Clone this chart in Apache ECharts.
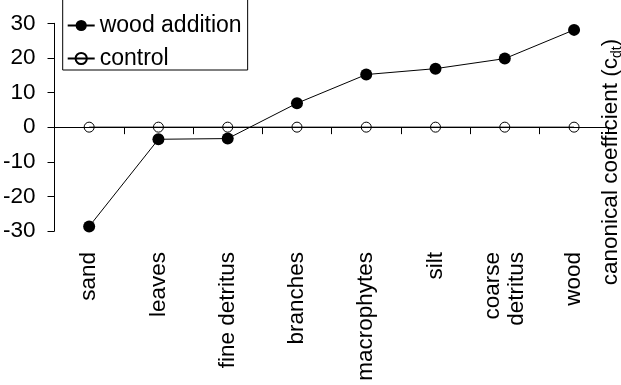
<!DOCTYPE html>
<html>
<head>
<meta charset="utf-8">
<script src="https://cdn.jsdelivr.net/npm/echarts@6/dist/echarts.min.js"></script>
<style>
  html, body { margin: 0; padding: 0; background: #fff; }
  #chart { width: 621px; height: 385px; }
</style>
</head>
<body>
<div id="chart"></div>
<script>
const categories = ['sand', 'leaves', 'fine detritus', 'branches', 'macrophytes', 'silt', 'coarse\ndetritus', 'wood'];
const woodAddition = [-28.7, -3.5, -3.3, 6.9, 15.2, 16.9, 19.8, 28.1];
const control = [0, 0, 0, 0, 0, 0, 0, 0];
const yMin = -30, yMax = 30, yStep = 10;
const seriesNames = ['wood addition', 'control'];
const yTitleMain = 'canonical coefficient (c';
const yTitleSub = 'dt';

const FONT = '"Liberation Sans", Arial, sans-serif';
const chart = echarts.init(document.getElementById('chart'), null, { renderer: 'canvas' });

chart.setOption({
  animation: false,
  backgroundColor: '#fff',
  grid: { left: 52.5, right: 12.3, top: 23.3, bottom: 154 },
  legend: {
    data: seriesNames,
    orient: 'vertical',
    left: 62.7,
    top: -10,
    padding: [24, 6, 0, 4],
    itemGap: 10,
    itemWidth: 27,
    itemHeight: 14,
    borderColor: '#000',
    borderWidth: 1,
    textStyle: { fontFamily: FONT, fontSize: 23, color: '#000' }
  },
  xAxis: [
    {
      type: 'category',
      data: categories,
      position: 'bottom',
      boundaryGap: true,
      axisLine: { show: true, onZero: true, lineStyle: { color: '#000', width: 1 } },
      axisTick: { show: true, interval: 0, length: 7, lineStyle: { color: '#000', width: 1 } },
      axisLabel: { show: false, interval: 0 },
      splitLine: { show: false },
      z: 1
    },
    {
      type: 'category',
      data: categories,
      position: 'bottom',
      boundaryGap: true,
      axisLine: { show: false, onZero: false },
      axisTick: { show: false },
      axisLabel: {
        show: true, rotate: 90, margin: 21, interval: 0,
        fontFamily: FONT, fontSize: 22.5, color: '#000', lineHeight: 24
      },
      splitLine: { show: false }
    }
  ],
  yAxis: {
    type: 'value',
    min: yMin, max: yMax, interval: yStep,
    axisLine: { show: true, lineStyle: { color: '#000', width: 1 } },
    axisTick: { show: true, length: 7, lineStyle: { color: '#000', width: 1 } },
    axisLabel: { fontFamily: FONT, fontSize: 22.5, color: '#000', margin: 19 },
    splitLine: { show: false }
  },
  series: [
    {
      name: seriesNames[1],
      type: 'line',
      data: control,
      symbol: 'circle',
      symbolSize: 10,
      lineStyle: { color: '#000', width: 1 },
      itemStyle: { color: 'rgba(0,0,0,0)', borderColor: '#000', borderWidth: 1 },
      z: 3
    },
    {
      name: seriesNames[0],
      type: 'line',
      data: woodAddition,
      symbol: 'circle',
      symbolSize: 12,
      lineStyle: { color: '#000', width: 1 },
      itemStyle: { color: '#000', borderColor: '#000', borderWidth: 0 },
      z: 4
    }
  ],
  graphic: [
    {
      type: 'text',
      x: 611,
      y: 162,
      rotation: Math.PI / 2,
      style: {
        text: yTitleMain + '{sub|' + yTitleSub + '})',
        fontFamily: FONT,
        fontSize: 22.5,
        fill: '#000',
        align: 'center',
        verticalAlign: 'middle',
        lineHeight: 26,
        rich: {
          sub: { fontFamily: FONT, fontSize: 14, fill: '#000', verticalAlign: 'bottom', lineHeight: 14 }
        }
      }
    }
  ]
});
</script>
</body>
</html>
